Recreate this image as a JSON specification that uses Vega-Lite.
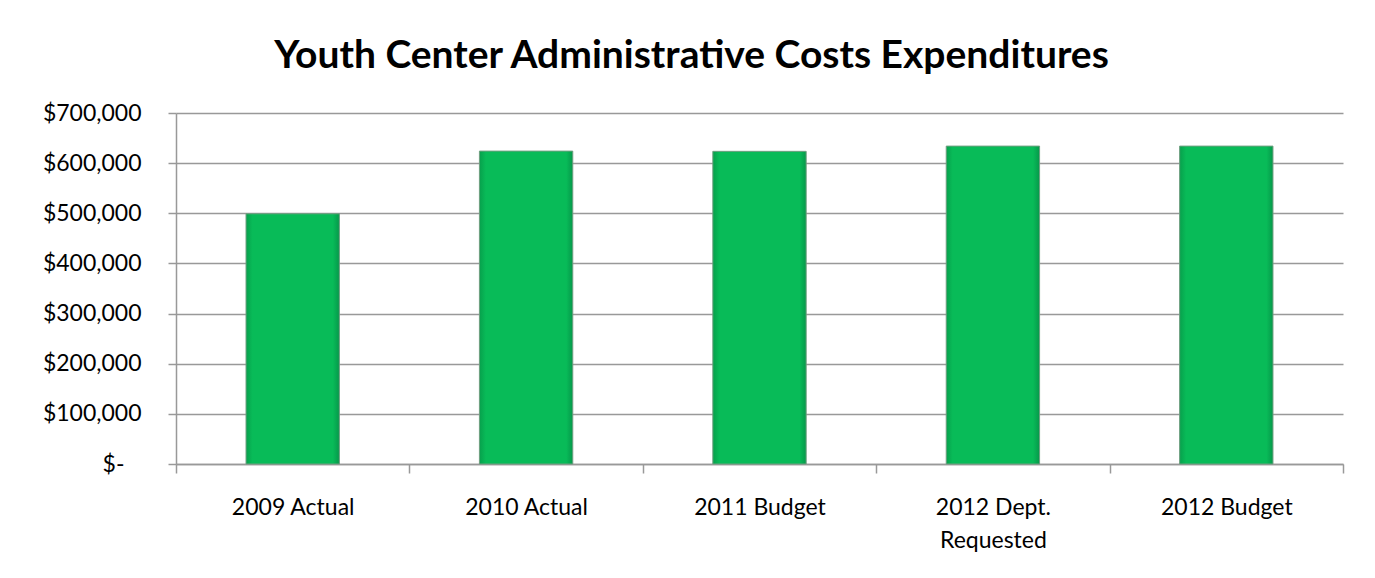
{
  "$schema": "https://vega.github.io/schema/vega-lite/v6.json",
  "width": 1167,
  "height": 351,
  "autosize": {"type": "none"},
  "padding": {"left": 176, "top": 113, "right": 32, "bottom": 114},
  "background": "white",
  "title": {
    "text": "Youth Center Administrative Costs Expenditures",
    "font": "Lato",
    "fontSize": 39,
    "fontWeight": "bold",
    "color": "#000000",
    "anchor": "middle",
    "dx": -68,
    "offset": 26
  },
  "data": {
    "values": [
      {"category": "2009 Actual", "amount": 499000},
      {"category": "2010 Actual", "amount": 624000},
      {"category": "2011 Budget", "amount": 623500},
      {"category": "2012 Dept. Requested", "amount": 634000},
      {"category": "2012 Budget", "amount": 634000}
    ]
  },
  "mark": {
    "type": "bar",
    "width": {"band": 0.4},
    "color": {
      "gradient": "linear",
      "x1": 0, "x2": 1, "y1": 0, "y2": 0,
      "stops": [
        {"offset": 0, "color": "#07a04c"},
        {"offset": 0.07, "color": "#08bb58"},
        {"offset": 0.93, "color": "#08bb58"},
        {"offset": 1, "color": "#06984a"}
      ]
    },
    "stroke": "#6f9f80",
    "strokeWidth": 1
  },
  "encoding": {
    "x": {
      "field": "category",
      "type": "nominal",
      "sort": null,
      "scale": {"paddingInner": 0, "paddingOuter": 0},
      "axis": {
        "title": null,
        "labelAngle": 0,
        "labelFont": "Lato",
        "labelFontSize": 23,
        "labelColor": "#000000",
        "labelPadding": 23,
        "labelLineHeight": 33,
        "labelExpr": "datum.label == '2012 Dept. Requested' ? ['2012 Dept.', 'Requested'] : datum.label",
        "tickBand": "extent",
        "tickSize": 9,
        "tickColor": "#999999",
        "tickWidth": 1.5,
        "domainColor": "#999999",
        "domainWidth": 1.5,
        "grid": false
      }
    },
    "y": {
      "field": "amount",
      "type": "quantitative",
      "scale": {"domain": [0, 700000], "nice": false},
      "axis": {
        "title": null,
        "values": [0, 100000, 200000, 300000, 400000, 500000, 600000, 700000],
        "labelExpr": "datum.value == 0 ? '$-\u2800' : '$' + format(datum.value, ',')",
        "labelFont": "Lato",
        "labelFontSize": 23,
        "labelColor": "#000000",
        "labelPadding": 27,
        "tickSize": 8,
        "tickColor": "#999999",
        "tickWidth": 1.5,
        "domainColor": "#999999",
        "domainWidth": 1.5,
        "grid": true,
        "gridColor": "#999999",
        "gridWidth": 1.5
      }
    }
  },
  "config": {
    "view": {"stroke": null}
  }
}
